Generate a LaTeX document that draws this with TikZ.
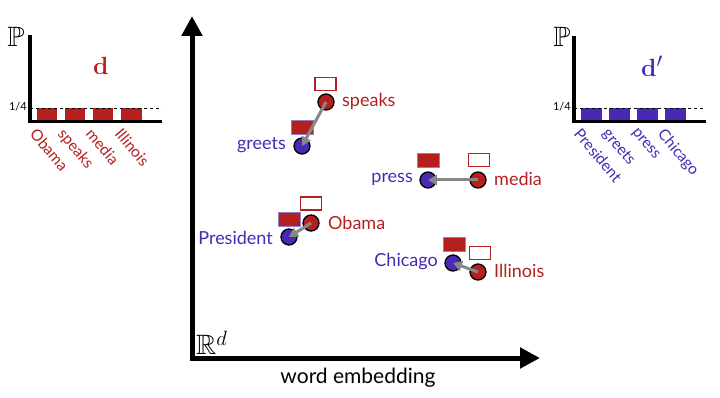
\documentclass[tikz,border=0pt]{standalone}
\usepackage{amssymb}
\usepackage[no-math]{fontspec}
\setmainfont{Lato}
\usetikzlibrary{arrows.meta}
\definecolor{wred}{RGB}{180,32,30}
\definecolor{wblue}{RGB}{72,40,180}
\definecolor{agray}{RGB}{135,135,135}
\tikzset{
  axis/.style={line width=5pt,-{Triangle[length=20pt,width=20pt]}},
  histaxis/.style={line width=3.5pt},
  redbar/.style={fill=wred,draw=none},
  bluebar/.style={fill=wblue,draw=none},
  rdot/.style={circle,fill=wred,draw=black,line width=1.3pt,minimum size=16pt,inner sep=0pt},
  bdot/.style={circle,fill=wblue,draw=black,line width=1.3pt,minimum size=16pt,inner sep=0pt},
  openbox/.style={draw=wred,fill=white,line width=1.2pt,minimum width=21pt,minimum height=13pt,inner sep=0pt},
  fullbox/.style={draw=wblue!60,fill=wred,line width=0.8pt,minimum width=22pt,minimum height=14pt,inner sep=0pt},
  rlab/.style={text=wred,font=\fontsize{18}{20}\selectfont,inner sep=0pt},
  blab/.style={text=wblue,font=\fontsize{18}{20}\selectfont,inner sep=0pt},
  hrlab/.style={text=wred,font=\fontsize{15.5}{17}\selectfont,rotate=-50,anchor=north west,inner sep=0pt},
  hblab/.style={text=wblue,font=\fontsize{15.5}{17}\selectfont,rotate=-50,anchor=north west,inner sep=0pt},
  move/.style={draw=agray,line width=3pt,-{Triangle[length=9pt,width=10pt]}},
}
\begin{document}
\begin{tikzpicture}[x=1pt,y=-1pt]
\useasboundingbox (0,0) rectangle (720,398);
% main axes
\coordinate (O) at (192,358);
\coordinate (Ytop) at (192,16);
\coordinate (Xend) at (540,358);
\draw[axis] (192,360.5) -- (Ytop);
\draw[axis] (189.5,358) -- (Xend);
\node[font=\fontsize{28}{30}\selectfont,anchor=south west,inner sep=0pt] (Rd) at (196,355) {$\mathbb{R}^d$};
\node[font=\fontsize{21}{24}\selectfont] (we) at (358,378) {word embedding};

% left histogram
\node[font=\fontsize{28}{30}\selectfont,inner sep=0pt] (P1) at (16,37) {$\mathbb{P}$};
\draw[histaxis] (30,35) -- (30,121.75) -- (162,121.75);
\fill[redbar] (37,108) rectangle (57,120);
\fill[redbar] (65,108) rectangle (85,120);
\fill[redbar] (93,108) rectangle (113,120);
\fill[redbar] (121,108) rectangle (142,120);
\draw[dashed,line width=0.8pt] (30,108) -- (162,108);
\node[font=\fontsize{11}{12}\selectfont,anchor=east,inner sep=1pt] (q1) at (28,107) {1/4};
\node[text=wred,font=\fontsize{30}{32}\selectfont] (d1) at (101,66) {$\mathbf{d}$};
\node[hrlab] (l1) at (38,127) {Obama};
\node[hrlab] (l2) at (66,127) {speaks};
\node[hrlab] (l3) at (94,127) {media};
\node[hrlab] (l4) at (123,127) {Illinois};

% right histogram
\node[font=\fontsize{28}{30}\selectfont,inner sep=0pt] (P2) at (562,37) {$\mathbb{P}$};
\draw[histaxis] (574,36) -- (574,121.75) -- (706,121.75);
\fill[bluebar] (581,108) rectangle (602,120);
\fill[bluebar] (609,108) rectangle (630,120);
\fill[bluebar] (637,108) rectangle (658,120);
\fill[bluebar] (665,108) rectangle (686,120);
\draw[dashed,line width=0.8pt] (574,108) -- (705,108);
\node[font=\fontsize{11}{12}\selectfont,anchor=east,inner sep=1pt] (q2) at (572,107) {1/4};
\node[text=wblue,font=\fontsize{30}{32}\selectfont] (d2) at (652,66) {$\mathbf{d}'$};
\node[hblab] (m1) at (582,127) {President};
\node[hblab] (m2) at (610,127) {greets};
\node[hblab] (m3) at (638,127) {press};
\node[hblab] (m4) at (666,127) {Chicago};

% words
\node[openbox] (bspeaks) at (325.5,84) {};
\node[rdot] (speaks) at (326,102) {};
\node[rlab,anchor=west] (tspeaks) at (342,101) {speaks};
\node[fullbox] (bgreets) at (302,127) {};
\node[bdot] (greets) at (302,146) {};
\node[blab,anchor=east] (tgreets) at (286,145) {greets};
\draw[move] (speaks.center) -- (greets.center);

\node[openbox] (bmedia) at (479,160) {};
\node[rdot] (media) at (478,180) {};
\node[rlab,anchor=west] (tmedia) at (494,179) {media};
\node[fullbox] (bpress) at (428.5,160) {};
\node[bdot] (press) at (428,180) {};
\node[blab,anchor=east] (tpress) at (413,179) {press};
\draw[move] (media.center) -- (press.center);

\node[openbox] (bobama) at (311,203.5) {};
\node[rdot] (obama) at (311,223) {};
\node[rlab,anchor=west] (tobama) at (328,223) {Obama};
\node[fullbox] (bpres) at (289.5,219) {};
\node[bdot] (pres) at (289,237) {};
\node[blab,anchor=east] (tpres) at (273,238) {President};
\draw[move] (obama.center) -- (pres.center);

\node[openbox] (billi) at (480,253) {};
\node[rdot] (illi) at (478,272) {};
\node[rlab,anchor=west] (tilli) at (494,271) {Illinois};
\node[fullbox] (bchic) at (454.5,244.5) {};
\node[bdot] (chic) at (453,263) {};
\node[blab,anchor=east] (tchic) at (438,262) {Chicago};
\draw[move] (illi.center) -- (chic.center);
\end{tikzpicture}
\end{document}
